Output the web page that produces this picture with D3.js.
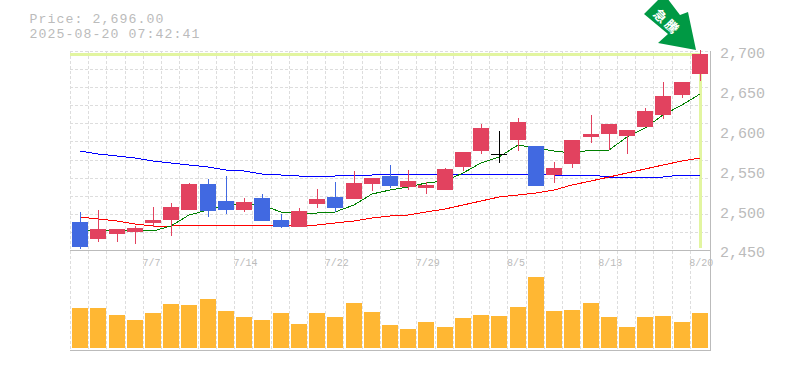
<!DOCTYPE html>
<html>
<head>
<meta charset="utf-8">
<script src="https://cdn.jsdelivr.net/npm/d3@7/dist/d3.min.js"></script>
<style>
    html, body { margin: 0; padding: 0; background: #fff; }
    svg { display: block; }
    text { font-family: "Liberation Mono", monospace; fill: #bbb; }
</style>
</head>
<body>
<script>
// daily candles
const dates = ["7/1", "7/2", "7/3", "7/4", "7/7", "7/8", "7/9", "7/10", "7/11", "7/14", "7/15", "7/16",
    "7/17", "7/18", "7/22", "7/23", "7/24", "7/25", "7/28", "7/29", "7/30", "7/31", "8/1", "8/4", "8/5",
    "8/6", "8/7", "8/8", "8/12", "8/13", "8/14", "8/15", "8/18", "8/19", "8/20"];
const dateTicks = ["7/7", "7/14", "7/22", "7/29", "8/5", "8/13", "8/20"];
const priceTicks = [2450, 2500, 2550, 2600, 2650, 2700];

const opens = [2485, 2464, 2470, 2473, 2484, 2488, 2500, 2533, 2512, 2500, 2515, 2488,
    2479, 2508, 2517, 2514, 2533, 2543, 2529, 2528, 2525, 2554, 2574, 2571, 2588,
    2581, 2544, 2558, 2592, 2596, 2593, 2605, 2620, 2645, 2671];
const highs = [2498, 2500, 2477, 2480, 2504, 2509, 2534, 2539, 2543, 2515, 2520, 2495,
    2503, 2527, 2535, 2549, 2540, 2557, 2550, 2535, 2553, 2573, 2608, 2600, 2616,
    2581, 2561, 2588, 2620, 2608, 2601, 2628, 2661, 2661, 2701];
const lows = [2451, 2460, 2460, 2458, 2479, 2468, 2500, 2491, 2495, 2498, 2486, 2478,
    2479, 2503, 2498, 2514, 2524, 2528, 2525, 2520, 2525, 2549, 2571, 2559, 2575,
    2530, 2534, 2553, 2584, 2576, 2571, 2605, 2615, 2641, 2662];
const closes = [2454, 2476, 2476, 2478, 2488, 2504, 2533, 2499, 2500, 2510, 2486, 2479,
    2499, 2514, 2503, 2534, 2540, 2530, 2537, 2532, 2552, 2573, 2603, 2571, 2611,
    2530, 2553, 2588, 2596, 2608, 2601, 2625, 2644, 2661, 2696];

// moving averages
const maShort = [2475, 2475, 2475, 2475, 2474, 2480, 2494, 2500, 2507, 2508, 2507, 2498,
    2497, 2497, 2498, 2507, 2520, 2525, 2529, 2534, 2537, 2547, 2559, 2567, 2582,
    2578, 2574, 2572, 2576, 2576, 2592, 2603, 2620, 2632, 2646];
const maMiddle = [2491, 2489, 2487, 2483, 2480, 2480, 2481, 2481, 2481, 2481, 2481, 2481,
    2482, 2482, 2484, 2487, 2490, 2493, 2494, 2498, 2501, 2506, 2511, 2516, 2519,
    2522, 2525, 2532, 2537, 2542, 2547, 2552, 2557, 2562, 2566];
const maLong = [2574, 2571, 2568, 2565, 2562, 2559, 2557, 2554, 2551, 2549, 2546, 2544,
    2543, 2543, 2543, 2544, 2544, 2545, 2546, 2546, 2546, 2546, 2546, 2546, 2546,
    2546, 2544, 2544, 2544, 2542, 2542, 2542, 2542, 2544, 2544];

const volumes = [40, 40, 33, 28, 35, 44, 43, 49, 37, 31, 28, 35, 24, 35, 31, 45, 36, 23,
    19, 26, 21, 30, 33, 32, 41, 71, 37, 38, 45, 31, 21, 31, 32, 26, 35];

const lastPrice = 2696;

const width = 785, height = 370;
const plotLeft = 71, plotRight = 709;
const priceTop = 51, priceBottom = 250, volumeBottom = 348, panelBottom = 350;
const bodyWidth = 16;
const gridColor = "#ddd", axisColor = "#bbb", markColor = "#e2f5a0";
const upColor = "#e2425f", downColor = "#4169e1", evenColor = "#000";

const svg = d3.select("body").append("svg")
    .attr("width", width)
    .attr("height", height);

const x = d3.scaleBand().domain(dates).range([plotLeft, plotRight]);
const y = d3.scaleLinear().domain([2450, 2700]).range([priceBottom, priceTop]);
const v = d3.scaleLinear().domain([0, 88]).range([volumeBottom, 260]);
const mid = d => Math.round(x(d) + x.bandwidth() / 2);

// dashed grid, 12 rows and one column per day
const grid = svg.append("g").attr("shape-rendering", "crispEdges")
    .attr("stroke", gridColor).attr("stroke-dasharray", "3,2");
grid.selectAll("line.row").data(d3.range(12)).enter().append("line")
    .attr("class", "row")
    .attr("x1", plotLeft - 1).attr("x2", plotRight + 1)
    .attr("y1", i => Math.round(priceTop + i * (priceBottom - priceTop) / 11) + 0.5)
    .attr("y2", i => Math.round(priceTop + i * (priceBottom - priceTop) / 11) + 0.5);
grid.selectAll("line.col").data(dates).enter().append("line")
    .attr("class", "col")
    .attr("x1", d => Math.round(x(d)) - 0.5).attr("x2", d => Math.round(x(d)) - 0.5)
    .attr("y1", priceTop).attr("y2", panelBottom);

// panel borders
const borders = svg.append("g").attr("shape-rendering", "crispEdges")
    .attr("stroke", axisColor).attr("stroke-width", 1);
borders.append("line").attr("x1", plotLeft - 1).attr("x2", plotRight + 1)
    .attr("y1", priceBottom + 0.5).attr("y2", priceBottom + 0.5);
borders.append("line").attr("x1", plotLeft - 1).attr("x2", plotRight + 1)
    .attr("y1", panelBottom + 0.5).attr("y2", panelBottom + 0.5);
borders.append("line").attr("x1", plotRight + 1.5).attr("x2", plotRight + 1.5)
    .attr("y1", priceTop).attr("y2", panelBottom + 1);

// current price marker
const lastDate = dates[dates.length - 1];
const marker = svg.append("g").attr("shape-rendering", "crispEdges")
    .attr("stroke", markColor).attr("stroke-width", 3);
marker.append("line").attr("x1", plotLeft - 1).attr("x2", mid(lastDate))
    .attr("y1", Math.round(y(lastPrice)) + 0.5).attr("y2", Math.round(y(lastPrice)) + 0.5);
marker.append("line").attr("x1", mid(lastDate) + 0.5).attr("x2", mid(lastDate) + 0.5)
    .attr("y1", y(lastPrice)).attr("y2", priceBottom - 2);

// moving average lines sit behind the candles
const maLine = d3.line().x((d, i) => mid(dates[i])).y(d => Math.round(y(d)));
[[maLong, "#0000ff"], [maMiddle, "#ff0000"], [maShort, "#008000"]].forEach(([values, color]) => {
    svg.append("path")
        .attr("d", maLine(values))
        .attr("fill", "none")
        .attr("stroke", color)
        .attr("stroke-width", 1)
        .attr("shape-rendering", "crispEdges");
});

// candles
const candleColor = i => closes[i] > opens[i] ? upColor : closes[i] < opens[i] ? downColor : evenColor;
const candles = svg.append("g").attr("shape-rendering", "crispEdges")
    .selectAll("g").data(dates).enter().append("g");
candles.append("line")
    .attr("x1", d => mid(d) + 0.5).attr("x2", d => mid(d) + 0.5)
    .attr("y1", (d, i) => Math.round(y(highs[i])))
    .attr("y2", (d, i) => Math.round(y(lows[i])))
    .attr("stroke", (d, i) => candleColor(i));
candles.append("rect")
    .attr("x", d => mid(d) - bodyWidth / 2)
    .attr("width", bodyWidth)
    .attr("y", (d, i) => Math.round(y(Math.max(opens[i], closes[i]))))
    .attr("height", (d, i) => Math.max(1, Math.round(y(Math.min(opens[i], closes[i]))) - Math.round(y(Math.max(opens[i], closes[i])))))
    .attr("fill", (d, i) => candleColor(i));

// volume bars
svg.append("g").attr("shape-rendering", "crispEdges")
    .selectAll("rect").data(volumes).enter().append("rect")
    .attr("x", (d, i) => mid(dates[i]) - bodyWidth / 2)
    .attr("width", bodyWidth)
    .attr("y", d => v(d))
    .attr("height", d => volumeBottom - v(d))
    .attr("fill", "#ffb733");

// price axis on the right, labels sit a little below their level
const priceAxis = svg.append("g")
    .attr("transform", "translate(720,2)")
    .call(d3.axisRight(y).tickValues(priceTicks).tickFormat(d3.format(",")).tickSize(0).tickPadding(0));
priceAxis.select(".domain").remove();
priceAxis.selectAll("text").attr("font-size", 15).attr("font-family", null);

// date labels start at the left edge of their day
const dateAxis = svg.append("g")
    .attr("transform", "translate(0,259)")
    .call(d3.axisBottom(x).tickValues(dateTicks).tickSize(0).tickPadding(0));
dateAxis.select(".domain").remove();
dateAxis.selectAll("text")
    .attr("font-size", 10)
    .attr("font-family", null)
    .attr("text-anchor", "start")
    .attr("dx", -x.bandwidth() / 2 - 1.5);

// price and time stamp, letter spacing keeps the 9px character width of the original
svg.selectAll("text.stamp")
    .data(["Price: " + d3.format(",.2f")(lastPrice), "2025-08-20 07:42:41"])
    .enter().append("text")
    .attr("class", "stamp")
    .attr("x", 29.5)
    .attr("y", (d, i) => 22.5 + i * 15)
    .attr("font-size", 13.2)
    .attr("letter-spacing", 1.08)
    .text(d => d);

// arrow pointing at the last candle, drawn relative to its tip
const tipX = mid(lastDate) - 4, tipY = priceTop - 1;
const arrow = svg.append("g").attr("transform", "translate(" + tipX + "," + tipY + ")");
arrow.append("polygon")
    .attr("points", [[-52, -36], [-32, -56], [-16, -35], [-8, -38], [0, 0], [-38, -7], [-28, -16]].join(" "))
    .attr("fill", "#009944");
arrow.selectAll("text.tag").data(["急", "騰"]).enter().append("text")
    .attr("class", "tag")
    .attr("transform", (d, i) => "translate(" + (-36 + i * 11.5) + "," + (-34 + i * 10.5) + ") rotate(45)")
    .attr("text-anchor", "middle")
    .attr("dy", ".35em")
    .style("font-family", '"Noto Sans CJK JP", sans-serif')
    .style("font-weight", "bold")
    .style("font-size", "13px")
    .style("fill", "#fff")
    .text(d => d);
</script>
</body>
</html>
